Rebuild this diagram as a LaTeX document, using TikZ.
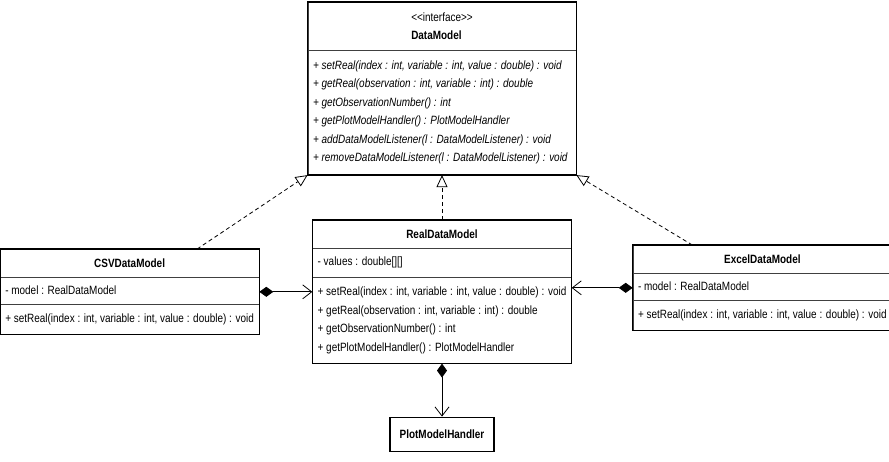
\documentclass[tikz,border=0pt]{standalone}
\usepackage{fontspec}
\setmainfont{Liberation Sans}[FakeStretch=0.83]
\usetikzlibrary{arrows.meta, positioning, calc, shapes.multipart}

\begin{document}
\begin{tikzpicture}[
  x=1pt, y=-1pt,
  font=\fontsize{12}{18.5}\selectfont,
  umlclass/.style = {rectangle split, rectangle split parts=3, draw=black!75, line width=0.7pt,
    inner xsep=5pt, inner ysep=9pt, align=left, rectangle split part align={center,left,left}},
  classframe/.style = {draw, line width=1.6pt},
  realize/.style = {dash pattern=on 4pt off 3pt, line width=0.8pt, -{Triangle[open, length=12pt, width=11pt]}},
  compose/.style = {line width=0.8pt, {Diamond[length=14pt, width=10pt]}-{Straight Barb[length=9pt, width=14pt]}}
  ]
  \useasboundingbox (0,0) rectangle (889,462);
  \node[umlclass, rectangle split parts=2, minimum width=268pt, inner ysep=10pt, anchor=north] (datamodel) at (442,2)
    {<\kern0pt<interface>\kern0pt>\\ \textbf{DataModel}
     \nodepart{two}\textit{+ setReal(index : int, variable : int, value : double) : void}\\
     \textit{+ getReal(observation : int, variable : int) : double}\\
     \textit{+ getObservationNumber() : int}\\
     \textit{+ getPlotModelHandler() : PlotModelHandler}\\
     \textit{+ addDataModelListener(l : DataModelListener) : void}\\
     \textit{+ removeDataModelListener(l : DataModelListener) : void}};
  \node[umlclass, minimum width=257pt, below=45pt of datamodel] (real)
    {\textbf{RealDataModel}
     \nodepart{two}- values : double[][]
     \nodepart{three}+ setReal(index : int, variable : int, value : double) : void\\
     + getReal(observation : int, variable : int) : double\\
     + getObservationNumber() : int\\
     + getPlotModelHandler() : PlotModelHandler};
  \node[umlclass, minimum width=257pt, left=53pt of real] (csv)
    {\textbf{CSVDataModel}
     \nodepart{two}- model : RealDataModel
     \nodepart{three}+ setReal(index : int, variable : int, value : double) : void};
  \node[umlclass, minimum width=255pt, right=61pt of real, yshift=4pt] (excel)
    {\textbf{ExcelDataModel}
     \nodepart{two}- model : RealDataModel
     \nodepart{three}+ setReal(index : int, variable : int, value : double) : void};
  \node[classframe, minimum width=104pt, minimum height=34pt, inner xsep=8pt, below=53pt of real] (plot) {\textbf{PlotModelHandler}};
  % thick outlines
  \foreach \n in {datamodel,real,csv,excel}
    \draw[classframe] (\n.north west) rectangle (\n.south east);
  % realization
  \draw[realize] ($(csv.north west)!0.76!(csv.north east)$) -- (datamodel.south west);
  \draw[realize] (real.north) -- (real.north |- datamodel.south);
  \draw[realize] ($(excel.north west)!0.23!(excel.north east)$) -- (datamodel.south east);
  % composition
  \draw[compose] (csv.east) -- (csv.east -| real.west);
  \draw[compose] (excel.west) -- (excel.west -| real.east);
  \draw[compose] (real.south) -- (plot.north);
\end{tikzpicture}
\end{document}
